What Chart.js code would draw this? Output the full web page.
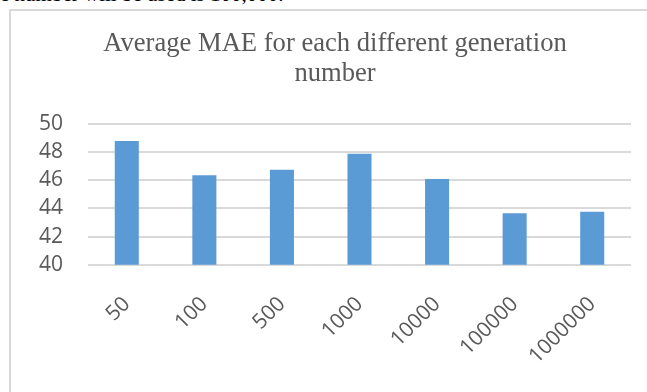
<!DOCTYPE html>
<html>
<head>
<meta charset="utf-8">
<script src="https://cdn.jsdelivr.net/npm/chart.js@4/dist/chart.umd.min.js"></script>
<style>
  html, body { margin: 0; padding: 0; background: #fff; overflow: hidden; width: 647px; height: 392px; }
  #toptext { position: absolute; left: 0; top: -16.5px; font: 21px "Liberation Serif", serif; line-height: 21px; color: #000; white-space: nowrap; }
  #box { position: absolute; left: 9px; top: 9px; width: 660px; height: 400px; border-left: 2px solid #d9d9d9; border-top: 2px solid #d9d9d9; }
  #wrap { position: absolute; left: 11px; top: 11px; width: 648px; height: 385px; }
</style>
</head>
<body>
<div id="toptext">e number will be used is 100,000.</div>
<div id="box"></div>
<div id="wrap"><canvas id="c"></canvas></div>
<script>
const chartTitle = ["Average MAE for each different generation", "number"];
const categories = ["50", "100", "500", "1000", "10000", "100000", "1000000"];
const maeValues = [48.8, 46.37, 46.75, 47.9, 46.09, 43.66, 43.76];
const yTicks = [40, 42, 44, 46, 48, 50];

new Chart(document.getElementById('c'), {
  type: 'bar',
  data: {
    labels: categories,
    datasets: [{
      data: maeValues,
      backgroundColor: '#5b9bd5',
      borderWidth: 0,
      barPercentage: 0.31,
      categoryPercentage: 1
    }]
  },
  options: {
    responsive: true,
    maintainAspectRatio: false,
    animation: false,
    layout: { padding: { left: 28, right: 28, top: 0, bottom: 0 } },
    plugins: {
      legend: { display: false },
      tooltip: { enabled: false },
      title: {
        display: true,
        text: chartTitle,
        color: '#595959',
        font: { family: '"Liberation Serif", serif', size: 26.6, weight: 'normal', lineHeight: 1.13 },
        padding: { top: 18, bottom: 35 }
      }
    },
    scales: {
      x: {
        grid: { display: false, drawTicks: false },
        border: { display: false },
        afterFit: (axis) => { axis.paddingLeft = 0; axis.paddingRight = 0; },
        ticks: {
          color: '#595959',
          font: { family: '"Open Sans", sans-serif', size: 21 },
          maxRotation: 45, minRotation: 45,
          autoSkip: false,
          padding: 27
        }
      },
      y: {
        min: 40, max: 50,
        afterBuildTicks: (axis) => { axis.ticks = yTicks.map(v => ({ value: v })); },
        afterFit: (axis) => { axis.width = 49; axis.paddingTop = 0; axis.paddingBottom = 0; },
        grid: { color: '#d9d9d9', lineWidth: 2, drawTicks: false },
        border: { display: false },
        ticks: {
          color: '#595959',
          font: { family: '"Open Sans", sans-serif', size: 21 },
          autoSkip: false,
          padding: 25
        }
      }
    }
  }
});
</script>
</body>
</html>
